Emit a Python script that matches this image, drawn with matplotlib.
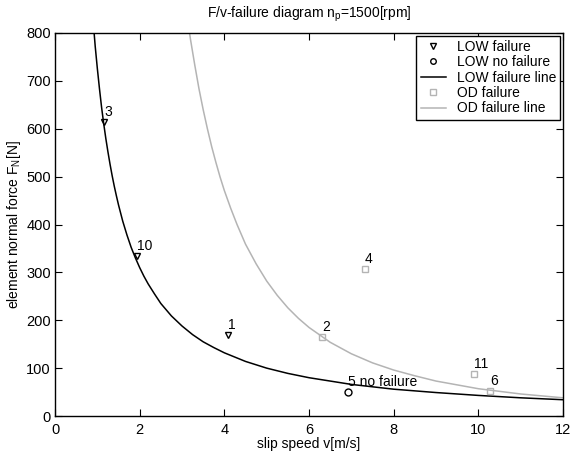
import matplotlib
matplotlib.use("Agg")
import matplotlib.pyplot as plt

plt.rcParams['font.family'] = ['Liberation Sans', 'DejaVu Sans']
plt.rcParams['mathtext.fontset'] = 'custom'
plt.rcParams['mathtext.rm'] = 'Liberation Sans'
plt.rcParams['mathtext.it'] = 'Liberation Sans'
plt.rcParams['font.size'] = 10

# measured points
low_fail_v = [4.09, 1.16, 1.93]
low_fail_F = [169, 614, 334]
low_fail_lbl = ["1", "3", "10"]

low_ok_v = [6.91]
low_ok_F = [50]
low_ok_lbl = ["5 no failure"]

od_fail_v = [6.31, 7.32, 10.28, 9.90]
od_fail_F = [165, 308, 52, 88]
od_fail_lbl = ["2", "4", "6", "11"]

# failure lines
low_line_v = [0.9, 0.95, 1.0, 1.05, 1.1, 1.15, 1.2, 1.25, 1.3, 1.35, 1.4, 1.45, 1.5,
              1.6, 1.7, 1.8, 1.9, 2.0, 2.1, 2.2, 2.35, 2.5, 2.75, 3.0, 3.25, 3.5,
              3.75, 4.0, 4.5, 5.0, 5.5, 6.0, 7.0, 8.0, 9.0, 10.0, 11.0, 12.0]
low_line_F = [826, 772, 726, 684, 645, 611, 580, 552, 526, 502, 480, 460, 441,
              407, 378, 352, 330, 310, 292, 276, 255, 235, 209, 188, 170, 155,
              143, 132, 114, 100, 89, 80, 66, 56, 49, 43, 38, 34]

od_line_v = [3.1, 3.2, 3.3, 3.4, 3.5, 3.6, 3.7, 3.8, 3.9, 4.0, 4.15, 4.3, 4.5, 4.75,
             5.0, 5.25, 5.5, 5.75, 6.0, 6.5, 7.0, 7.5, 8.0, 8.5, 9.0, 10.0, 11.0, 12.0]
od_line_F = [846, 787, 734, 684, 640, 600, 563, 530, 499, 471, 434, 400, 359, 318,
             282, 252, 226, 204, 185, 154, 130, 111, 96, 84, 73, 57, 46, 38]

grey = '#b4b4b4'

fig = plt.figure(figsize=(5.78, 4.55), dpi=100)
ax = fig.add_axes([55 / 578, 39 / 455, 508 / 578, 383 / 455])

ax.plot(low_fail_v, low_fail_F, 'v', ms=5, mfc='none', mec='black', mew=1.0,
        label='LOW failure')
ax.plot(low_ok_v, low_ok_F, 'o', ms=5, mfc='none', mec='black', mew=1.0,
        label='LOW no failure')
ax.plot(low_line_v, low_line_F, '-', color='black', lw=1.1, label='LOW failure line')
ax.plot(od_fail_v, od_fail_F, 's', ms=5, mfc='none', mec=grey, mew=1.0,
        label='OD failure')
ax.plot(od_line_v, od_line_F, '-', color=grey, lw=1.1, label='OD failure line')

for v, F, t in zip(low_fail_v + low_ok_v + od_fail_v,
                   low_fail_F + low_ok_F + od_fail_F,
                   low_fail_lbl + low_ok_lbl + od_fail_lbl):
    ax.annotate(t, (v, F), xytext=(0, 7), textcoords='offset points',
                ha='left', va='center', fontsize=10)

ax.set_xlim(0, 12)
ax.set_ylim(0, 800)
ax.set_xticks(range(0, 13, 2))
ax.set_yticks(range(0, 801, 100))
ax.tick_params(direction='in', top=True, right=True, length=5, labelsize=10.5)
ax.tick_params(axis='x', pad=5)
ax.tick_params(axis='y', pad=3)
for s in ax.spines.values():
    s.set_linewidth(1.0)

ax.set_title('F/v-failure diagram n$_\\mathrm{p}$=1500[rpm]', fontsize=10, pad=11)
ax.set_xlabel('slip speed v[m/s]', fontsize=10, labelpad=0)
ax.set_ylabel('element normal force F$_\\mathrm{N}$[N]', fontsize=10, labelpad=2)

leg = ax.legend(loc='upper right', fontsize=10, frameon=True, fancybox=False,
                edgecolor='black', framealpha=1, handlelength=1.8,
                handletextpad=0.8, labelspacing=0.1, borderpad=0.3,
                borderaxespad=0.2, markerscale=0.8)
leg.get_frame().set_linewidth(1.0)

fig.savefig('out.png', dpi=100)
